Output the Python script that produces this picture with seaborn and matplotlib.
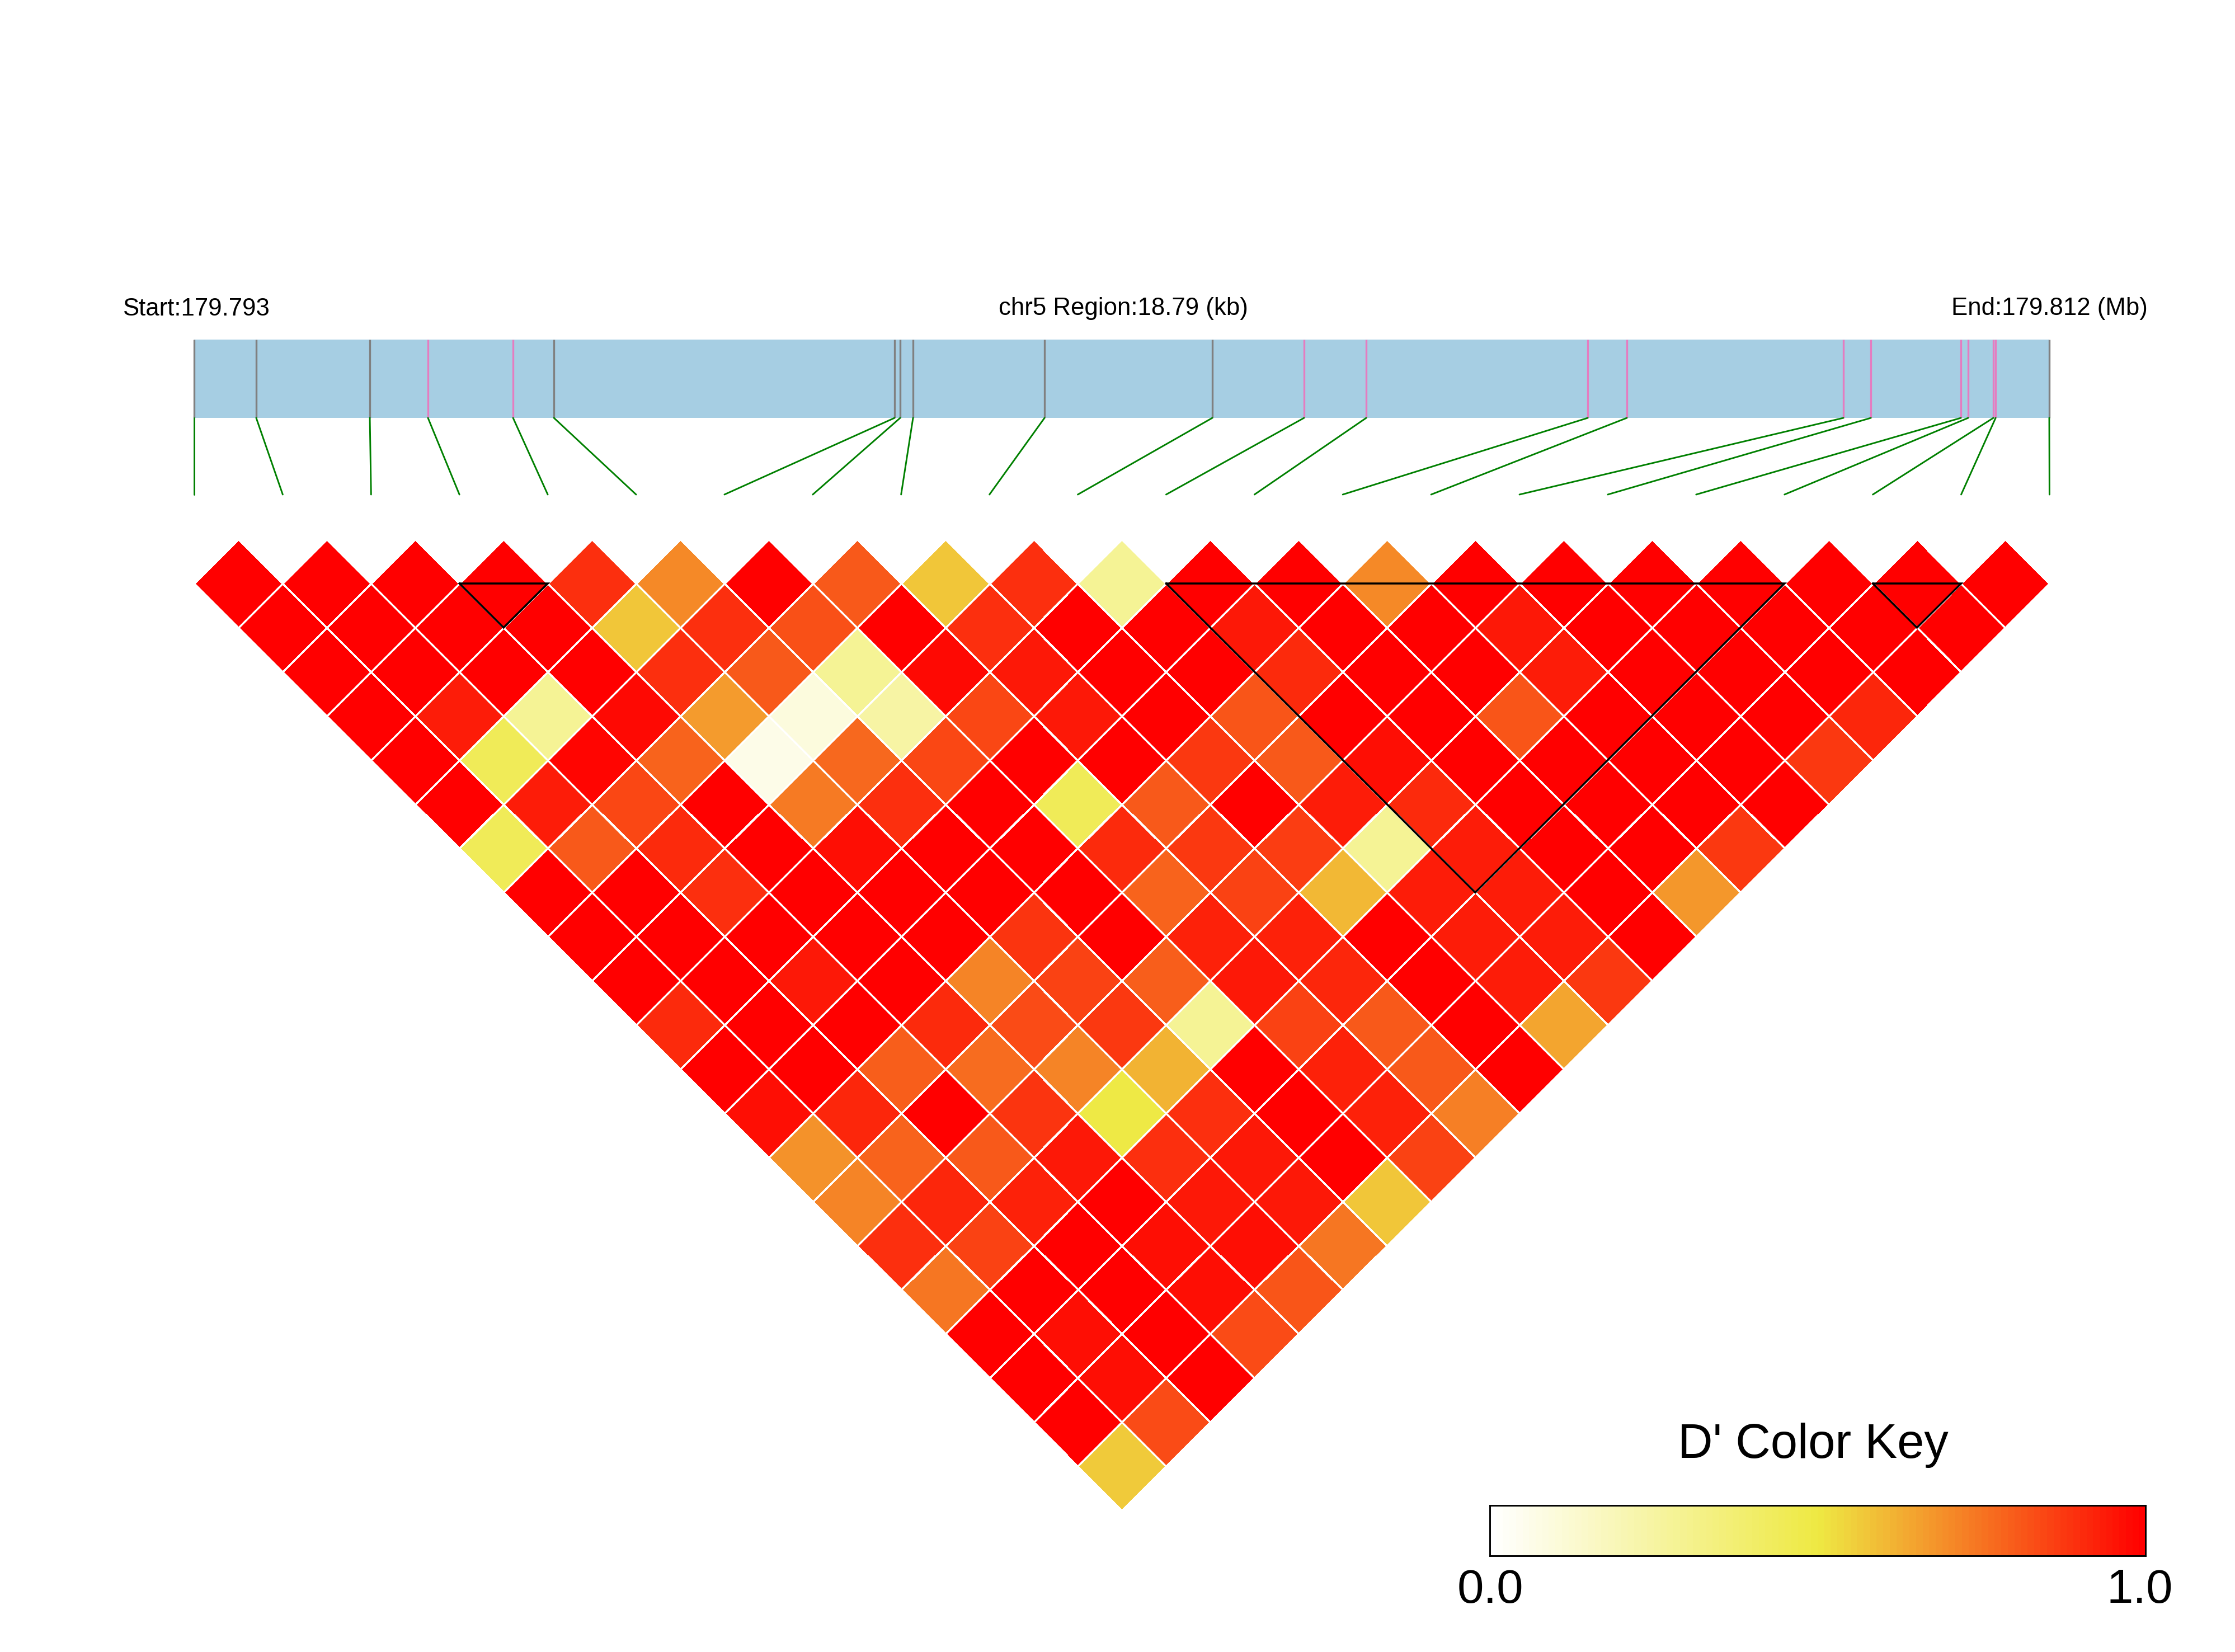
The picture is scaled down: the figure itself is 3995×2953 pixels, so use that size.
import numpy as np
import seaborn as sns
import matplotlib
matplotlib.use("Agg")
import matplotlib.pyplot as plt
from matplotlib.colors import LinearSegmentedColormap
from matplotlib.transforms import Affine2D

# SNP positions in kb from region start, and whether the track line is pink
snp_kb = [0, 0.626, 1.777, 2.366, 3.228, 3.642, 7.093, 7.150, 7.280, 8.612, 10.312,
          11.241, 11.871, 14.115, 14.511, 16.705, 16.983, 17.895, 17.969, 18.224, 18.247, 18.79]
snp_pink = [0, 0, 0, 1, 1, 0, 0, 0, 0, 0, 0, 1, 1, 1, 1, 1, 1, 1, 1, 1, 1, 0]

# D' values, one list per diagonal of the triangle (top row first)
row00 = [1, 1, 1, 1, .89, .70, 1, .80, .58, .89, .28, 1, 1, .70, 1, 1, 1, 1, 1, 1, 1]
row01 = [1, 1, 1, 1, .58, .89, .82, 1, .89, 1, 1, .94, 1, 1, .94, 1, 1, 1, 1, 1]
row02 = [1, 1, 1, 1, .89, .80, .29, .97, .94, 1, 1, .90, 1, 1, .93, 1, 1, 1, 1]
row03 = [1, .93, .29, .97, .66, .09, .24, .84, .94, 1, .81, 1, 1, .81, 1, 1, 1, .91]
row04 = [1, .44, .98, .78, .06, .77, .84, 1, 1, .87, .80, .96, 1, 1, 1, 1, .87]
row05 = [1, .93, .84, 1, .73, .89, 1, .44, .80, 1, .93, .90, 1, 1, 1, 1]
row06 = [.44, .80, .90, 1, .96, 1, 1, .90, .87, .86, .29, .93, 1, 1, .87]
row07 = [1, 1, .89, 1, 1, 1, 1, .78, .85, .60, .93, .93, 1, .67]
row08 = [1, 1, 1, 1, 1, .88, 1, .92, .92, 1, .93, .93, 1]
row09 = [1, 1, .94, 1, .71, .85, .79, .94, .91, 1, .93, .87]
row10 = [.90, 1, 1, .90, .83, .87, .29, .85, .80, 1, .64]
row11 = [1, 1, .79, .76, .71, .61, 1, .92, .80, 1]
row12 = [.96, .91, 1, .88, .49, .89, 1, .92, .72]
row13 = [.68, .78, .80, .94, .89, .94, 1, .85]
row14 = [.71, .91, .92, 1, .94, .94, .58]
row15 = [.89, .85, 1, .96, .96, .74]
row16 = [.74, 1, 1, .96, .81]
row17 = [1, .96, 1, .83]
row18 = [1, .96, 1]
row19 = [1, .83]
row20 = [.57]
rows = [row00, row01, row02, row03, row04, row05, row06, row07, row08, row09, row10,
        row11, row12, row13, row14, row15, row16, row17, row18, row19, row20]

# LD blocks as first and last SNP index
blocks = [(3, 4), (11, 18), (19, 20)]

start_label = "Start:179.793"
mid_label = "chr5 Region:18.79 (kb)"
end_label = "End:179.812 (Mb)"
key_title = "D' Color Key"
key_ticks = ["0.0", "1.0"]

W, H = 3995, 2953
sns.set_style("white")
plt.rcParams["font.family"] = ["Liberation Sans", "DejaVu Sans"]
plt.rcParams["text.color"] = "black"

cmap = LinearSegmentedColormap.from_list(
    "dprime", [(0, "#ffffff"), (0.5, "#eee943"), (1, "#ff0000")], N=100)

n = len(rows)
D = np.full((n, n), np.nan)
for r, row in enumerate(rows):
    for c, v in enumerate(row):
        D[c, c + r] = v

fig = plt.figure(figsize=(W / 300, H / 300), dpi=300)
ax = fig.add_axes([0, 0, 1, 1])

# heatmap first, then turn it 45 degrees onto the page (axes are in pixels)
sns.heatmap(D, mask=np.isnan(D), cmap=cmap, vmin=0, vmax=1, cbar=False, square=False,
            linewidths=0.6, linecolor="white", xticklabels=False, yticklabels=False, ax=ax)
left, top, step, step_y = 347.5, 1043, 78.95, 78.9
rot = Affine2D(matrix=[[step, step, left], [step_y, -step_y, top], [0, 0, 1]]) + ax.transData
ax.collections[0].set_transform(rot)

for a, b in blocks:
    ax.plot([a, b, b, a], [a, b, a, a], color="black", lw=0.85, transform=rot,
            solid_joinstyle="miter")

# gene track
track_right = 3663
track_top, track_bot, link_bot = 607, 747, 884
ax.fill_between([left, track_right], track_top, track_bot, color="#a6cee3", lw=0)
px = left + np.array(snp_kb) / snp_kb[-1] * (track_right - left)
for k, x in enumerate(px):
    col = "#e57cc0" if snp_pink[k] else "#808080"
    ax.plot([x, x], [track_top, track_bot], color=col, lw=0.8, solid_capstyle="butt")
    ax.plot([x, left + 2 * step * k], [track_bot, link_bot], color="#008000", lw=0.7)

ax.set_xlim(0, W)
ax.set_ylim(H, 0)
ax.axis("off")

ax.text(219, 552, start_label, fontsize=10.5, va="center", ha="left")
ax.text(2008, 552, mid_label, fontsize=10.5, va="center", ha="center")
ax.text(3839, 552, end_label, fontsize=10.5, va="center", ha="right")

# colour key
ax.text(3241, 2584, key_title, fontsize=20.8, va="center", ha="center")
ax.text(2664, 2843, key_ticks[0], fontsize=20.5, va="center", ha="center")
ax.text(3825, 2843, key_ticks[1], fontsize=20.5, va="center", ha="center")

ax_key = fig.add_axes([2663 / W, 1 - 2781 / H, (3835 - 2663) / W, 90 / H])
key_values = np.linspace(0, 1, 100).reshape(1, -1)
sns.heatmap(key_values, cmap=cmap, vmin=0, vmax=1, cbar=False,
            xticklabels=False, yticklabels=False, ax=ax_key)
for s in ax_key.spines.values():
    s.set_visible(True)
    s.set_color("black")
    s.set_linewidth(0.7)

fig.savefig("out.png", dpi=300, facecolor="white")
